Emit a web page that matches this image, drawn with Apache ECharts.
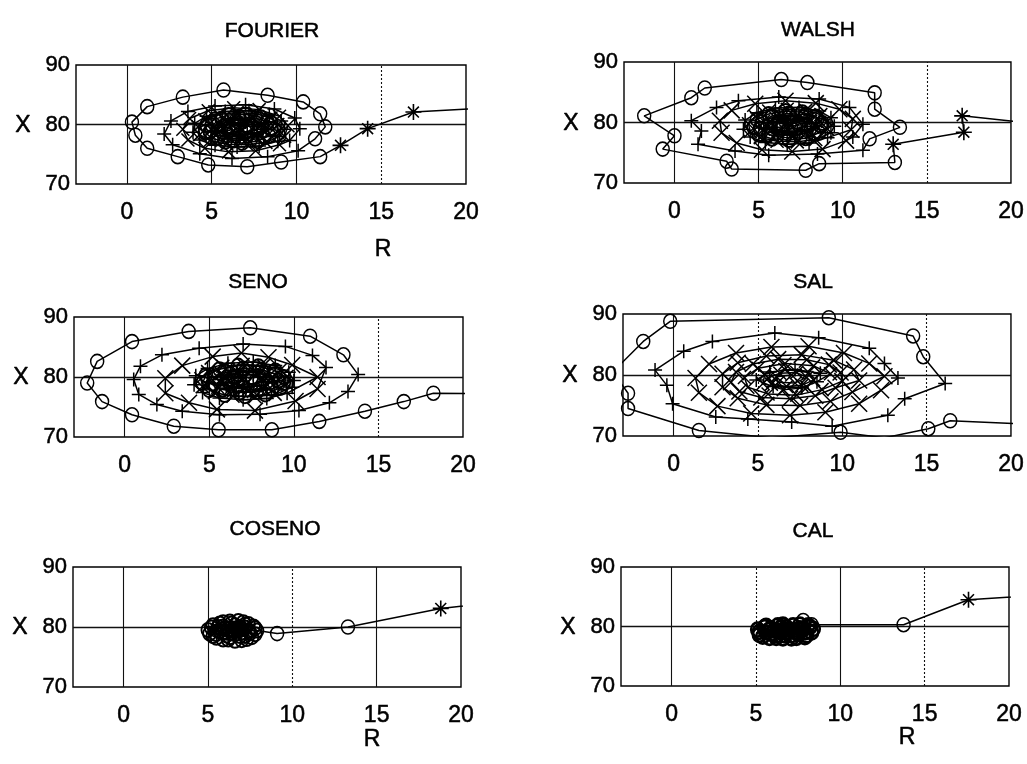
<!DOCTYPE html>
<html>
<head>
<meta charset="utf-8">
<title>Trayectorias R-X</title>
<script src="https://cdn.jsdelivr.net/npm/echarts@6/dist/echarts.min.js"></script>
<style>
  html, body { margin: 0; padding: 0; background: #fff; }
  #chart { width: 1027px; height: 764px; }
</style>
</head>
<body>
<div id="chart"></div>
<script>
// ---- axes ----
const R_TICKS = [0, 5, 10, 15, 20];
const X_TICKS = [70, 80, 90];
const R_GRID = [0, 5, 10, 15];
const X_GRID = [80];
const PANEL_TITLES = ['FOURIER', 'WALSH', 'SENO', 'SAL', 'COSENO', 'CAL'];

// ---- FOURIER: trajectory [R, X], outer stage first ----
const fourierStar = [[22.5, 83.0], [16.9, 82.1], [14.2, 79.3], [12.6, 76.5]];
const fourierCircle = [[11.4, 74.6], [9.1, 73.7], [7.1, 72.9], [4.8, 73.2], [3.0, 74.6], [1.2, 76.0], [0.5, 78.2], [0.3, 80.4], [1.2, 83.0], [3.3, 84.6], [5.7, 85.8], [8.3, 84.9], [10.4, 83.8], [11.4, 81.8], [11.7, 79.6], [11.1, 77.6]];
const fourierPlus = [[10.1, 75.6], [8.3, 74.6], [6.2, 74.3], [4.3, 75.1], [2.7, 76.6], [2.2, 78.4], [2.6, 80.6], [3.6, 82.2], [5.2, 83.1], [7.0, 83.3], [8.7, 82.6], [9.9, 81.1], [10.2, 79.3], [9.6, 77.3]];
const fourierCross = [[9.0, 76.6], [7.6, 75.6], [6.0, 75.4], [4.6, 76.0], [3.6, 77.4], [3.3, 79.2], [3.7, 81.0], [4.8, 82.3], [6.3, 82.8], [7.8, 82.5], [9.0, 81.4], [9.5, 79.8], [9.3, 78.0]];
const fourierCoreP0 = [[8.9, 77.2], [7.8, 76.4], [6.5, 76.2], [5.2, 76.5], [4.3, 77.4], [3.9, 78.7], [4.0, 80.2], [4.7, 81.4], [5.8, 82.2], [7.2, 82.3], [8.4, 81.7], [9.1, 80.6], [9.3, 79.2], [9.0, 78.0]];
const fourierCoreX0 = [[8.2, 77.0], [7.1, 76.6], [5.9, 76.7], [4.9, 77.3], [4.3, 78.3], [4.2, 79.6], [4.6, 80.8], [5.4, 81.7], [6.5, 82.0], [7.6, 81.8], [8.5, 81.1], [8.9, 80.0], [8.9, 78.7]];
const fourierCoreO1 = [[8.4, 78.1], [7.7, 77.2], [6.8, 76.9], [5.8, 77.1], [5.0, 77.7], [4.6, 78.7], [4.7, 79.9], [5.2, 80.9], [6.0, 81.6], [7.0, 81.7], [7.9, 81.2], [8.5, 80.3], [8.7, 79.2]];
const fourierCoreO1b = [[8.1, 77.9], [7.3, 77.4], [6.3, 77.3], [5.4, 77.8], [4.9, 78.8], [5.0, 79.9], [5.6, 80.9], [6.6, 81.3], [7.6, 81.1], [8.3, 80.4], [8.5, 79.3]];
const fourierCoreX1 = [[7.9, 78.2], [7.1, 77.6], [6.1, 77.6], [5.3, 78.3], [5.1, 79.4], [5.5, 80.5], [6.4, 81.0], [7.4, 80.9], [8.0, 80.1], [8.1, 79.0]];
const fourierCoreX1b = [[7.6, 78.0], [6.8, 77.8], [5.9, 78.1], [5.3, 78.9], [5.5, 80.0], [6.2, 80.7], [7.2, 80.7], [7.9, 80.0], [8.0, 79.0]];
const fourierCoreP1 = [[7.4, 78.5], [6.6, 78.1], [5.8, 78.6], [5.6, 79.5], [6.1, 80.3], [7.0, 80.4], [7.5, 79.7]];
const fourierCoreP1b = [[7.1, 78.4], [6.2, 78.3], [5.7, 79.0], [5.9, 79.9], [6.7, 80.3], [7.5, 80.0], [7.7, 79.2]];
const fourierCoreO2 = [[7.0, 78.8], [6.3, 78.8], [6.0, 79.4], [6.5, 79.9], [7.1, 79.6]];
const fourierCoreX2 = [[6.8, 79.1], [6.4, 79.3], [6.7, 79.5]];

// ---- WALSH ----
const walshStar = [[20.8, 80.0], [17.1, 81.1], [17.2, 78.4], [13.0, 76.4]];
const walshCircle = [[13.1, 73.4], [8.6, 73.2], [7.8, 72.1], [3.4, 72.3], [3.1, 73.6], [-0.7, 75.6], [0.0, 77.8], [-1.8, 81.1], [1.0, 84.1], [1.8, 85.7], [6.35, 87.1], [7.9, 86.6], [11.9, 84.9], [11.9, 82.2], [13.4, 79.2], [11.6, 77.3]];
const walshPlus = [[11.2, 75.4], [8.5, 74.8], [5.6, 74.6], [3.6, 75.3], [1.4, 76.4], [1.6, 78.6], [1.0, 80.3], [2.5, 82.5], [3.8, 83.6], [6.2, 84.2], [8.6, 83.9], [10.4, 82.5], [11.2, 79.7], [10.6, 77.6]];
const walshCross = [[10.2, 77.0], [8.8, 75.6], [7.0, 75.2], [5.2, 75.5], [3.7, 76.6], [2.8, 78.3], [2.7, 80.3], [3.4, 82.0], [4.8, 83.1], [6.6, 83.6], [8.4, 83.2], [9.8, 82.2], [10.6, 80.6], [10.5, 78.8]];
const walshCoreP0 = [[9.1, 77.5], [8.0, 76.6], [6.7, 76.4], [5.4, 76.7], [4.5, 77.6], [4.1, 78.9], [4.2, 80.4], [4.9, 81.6], [6.0, 82.4], [7.4, 82.5], [8.6, 81.9], [9.3, 80.8], [9.5, 79.4], [9.3, 78.3]];
const walshCoreX0 = [[8.4, 77.2], [7.3, 76.8], [6.1, 76.9], [5.1, 77.5], [4.5, 78.5], [4.4, 79.8], [4.8, 81.0], [5.6, 81.9], [6.7, 82.2], [7.8, 82.0], [8.7, 81.3], [9.1, 80.2], [9.1, 78.9]];
const walshCoreO1 = [[8.6, 78.3], [7.8, 77.4], [6.8, 77.1], [5.8, 77.3], [5.0, 78.0], [4.7, 79.2], [4.9, 80.5], [5.6, 81.4], [6.6, 81.9], [7.6, 81.7], [8.4, 81.0], [8.8, 79.9]];
const walshCoreO1b = [[8.3, 78.1], [7.5, 77.6], [6.5, 77.5], [5.6, 78.0], [5.1, 79.0], [5.2, 80.1], [5.8, 81.1], [6.8, 81.5], [7.8, 81.3], [8.5, 80.6], [8.7, 79.5]];
const walshCoreX1 = [[8.1, 78.4], [7.1, 77.8], [6.0, 78.0], [5.3, 78.9], [5.3, 80.2], [6.1, 81.1], [7.3, 81.2], [8.1, 80.5], [8.4, 79.4]];
const walshCoreX1b = [[7.8, 78.2], [7.0, 78.0], [6.1, 78.3], [5.5, 79.1], [5.7, 80.2], [6.4, 80.9], [7.4, 80.9], [8.1, 80.2], [8.2, 79.2]];
const walshCoreP1 = [[7.6, 78.7], [6.7, 78.4], [5.9, 78.9], [5.8, 79.9], [6.5, 80.6], [7.4, 80.5], [7.9, 79.8]];
const walshCoreP1b = [[7.3, 78.6], [6.4, 78.5], [5.9, 79.2], [6.1, 80.1], [6.9, 80.5], [7.7, 80.2], [7.9, 79.4]];
const walshCoreO2 = [[7.2, 79.0], [6.4, 79.1], [6.2, 79.8], [6.9, 80.1], [7.4, 79.6]];
const walshCoreX2 = [[6.9, 79.4], [6.5, 79.6], [6.9, 79.8]];

// ---- SENO ----
const senoCircle = [[21.5, 77.2], [18.25, 77.3], [16.5, 75.9], [14.2, 74.3], [11.5, 72.6], [8.7, 71.2], [5.55, 71.2], [2.9, 71.8], [0.43, 73.7], [-1.34, 75.9], [-2.22, 79.0], [-1.63, 82.6], [0.43, 85.9], [3.78, 87.6], [7.42, 88.2], [10.96, 86.8], [12.93, 83.7]];
const senoPlus = [[13.8, 80.4], [13.2, 77.6], [12.1, 75.7], [10.3, 74.4], [8.0, 73.8], [5.6, 73.7], [3.4, 74.3], [1.9, 75.4], [0.83, 77.1], [0.53, 79.6], [0.93, 81.8], [2.2, 83.7], [4.4, 84.8], [7.0, 85.5], [9.5, 85.1], [11.1, 83.6], [11.9, 81.6]];
const senoCross = [[11.4, 78.0], [10.1, 76.0], [7.7, 74.4], [5.45, 74.6], [3.8, 75.7], [2.4, 77.3], [2.4, 79.8], [3.4, 81.9], [5.2, 83.4], [6.9, 84.0], [8.5, 83.3], [9.9, 82.0], [11.4, 80.0]];
const senoCoreP0 = [[9.6, 77.3], [8.4, 76.4], [7.0, 76.2], [5.6, 76.5], [4.6, 77.4], [4.1, 78.7], [4.2, 80.2], [4.9, 81.4], [6.1, 82.3], [7.6, 82.5], [8.9, 81.9], [9.7, 80.8], [10.0, 79.4], [9.9, 78.3]];
const senoCoreX0 = [[8.9, 77.1], [7.7, 76.7], [6.4, 76.8], [5.3, 77.4], [4.6, 78.4], [4.5, 79.7], [4.9, 80.9], [5.8, 81.8], [7.0, 82.1], [8.2, 81.9], [9.2, 81.2], [9.6, 80.1], [9.6, 78.8]];
const senoCoreO1 = [[9.2, 78.2], [8.3, 77.1], [7.1, 76.8], [5.9, 77.0], [5.0, 77.8], [4.6, 79.0], [4.8, 80.3], [5.6, 81.3], [6.7, 81.9], [7.9, 81.8], [8.9, 81.1], [9.4, 80.0], [9.4, 79.0]];
const senoCoreO1b = [[8.7, 78.0], [7.8, 77.5], [6.8, 77.4], [5.8, 77.9], [5.2, 78.9], [5.3, 80.0], [5.9, 81.0], [7.0, 81.4], [8.1, 81.2], [8.9, 80.5], [9.1, 79.4]];
const senoCoreX1 = [[8.6, 78.2], [7.6, 77.6], [6.4, 77.6], [5.5, 78.3], [5.2, 79.5], [5.7, 80.6], [6.8, 81.1], [8.0, 80.9], [8.7, 80.0]];
const senoCoreX1b = [[8.2, 78.1], [7.3, 77.9], [6.3, 78.2], [5.7, 79.0], [5.9, 80.1], [6.7, 80.8], [7.7, 80.8], [8.5, 80.1], [8.6, 79.1]];
const senoCoreP1 = [[8.1, 78.6], [7.0, 78.2], [6.0, 78.6], [5.7, 79.6], [6.4, 80.4], [7.6, 80.4], [8.3, 79.6]];
const senoCoreP1b = [[7.6, 78.5], [6.6, 78.4], [6.1, 79.1], [6.3, 80.0], [7.2, 80.4], [8.0, 80.1], [8.2, 79.3]];
const senoCoreO2 = [[7.7, 78.9], [6.7, 78.7], [6.1, 79.3], [6.5, 80.0], [7.5, 79.9]];
const senoCoreX2 = [[7.3, 79.2], [6.6, 79.3], [7.0, 79.6]];

// ---- SAL ----
const salCircle = [[21.5, 71.9], [16.4, 72.5], [15.1, 71.2], [12.5, 69.7], [9.9, 70.6], [5.8, 69.7], [1.5, 70.9], [-2.7, 74.5], [-2.7, 77.0], [-3.6, 80.5], [-1.8, 85.5], [-0.2, 88.8], [9.2, 89.4], [14.2, 86.4], [14.8, 83.0]];
const salPlus = [[16.1, 78.6], [13.7, 76.1], [12.7, 73.4], [9.4, 71.6], [7.0, 72.3], [4.4, 72.8], [2.5, 73.1], [-0.06, 75.3], [-0.4, 78.3], [-1.1, 80.8], [0.6, 83.9], [2.3, 85.5], [6.0, 86.9], [8.6, 86.1], [11.6, 84.4], [12.5, 81.9], [13.3, 79.5]];
const salCross = [[12.3, 77.5], [11.0, 75.3], [9.0, 73.9], [6.9, 73.4], [4.6, 73.7], [2.6, 74.9], [1.5, 77.1], [1.3, 79.5], [2.1, 81.8], [3.7, 83.6], [5.8, 84.6], [8.0, 84.7], [10.1, 83.6], [11.6, 81.9], [12.5, 79.8]];
const salCross2 = [[10.6, 77.2], [9.3, 75.7], [7.5, 75.0], [5.5, 75.1], [3.8, 76.2], [2.9, 78.0], [2.9, 80.2], [3.8, 82.0], [5.5, 83.1], [7.6, 83.3], [9.5, 82.4], [10.7, 80.9], [11.0, 79.1]];
const salCoreX0 = [[9.6, 77.9], [8.4, 76.6], [6.9, 76.1], [5.2, 76.3], [3.9, 77.3], [3.4, 78.8], [3.7, 80.5], [4.7, 81.8], [6.2, 82.6], [7.9, 82.5], [9.2, 81.7], [9.9, 80.4], [10.0, 79.0]];
const salCoreX1 = [[8.8, 77.6], [7.3, 76.7], [5.6, 76.9], [4.4, 78.0], [4.2, 79.6], [5.0, 81.1], [6.6, 81.9], [8.3, 81.5], [9.3, 80.2]];
const salCoreP1 = [[8.5, 78.9], [7.6, 77.9], [5.9, 78.1], [4.9, 79.2], [5.7, 80.5], [7.2, 80.9], [8.7, 80.3]];
const salCoreX2 = [[7.9, 78.0], [6.5, 77.6], [5.3, 78.6], [5.4, 80.1], [6.6, 80.9], [8.0, 80.4], [8.3, 79.2]];
const salCoreX3 = [[7.6, 78.3], [6.7, 78.1], [5.8, 78.5], [5.6, 79.5], [6.3, 80.3], [7.3, 80.4], [7.9, 79.6]];
const salCoreX4 = [[7.2, 78.7], [6.2, 78.8], [6.1, 79.7], [7.0, 80.0]];

// ---- COSENO ----
const cosenoStar = [[22.0, 84.1], [18.8, 83.1]];
const cosenoCircle = [[13.3, 80.0], [9.1, 78.9]];
const cosenoCore = [[7.9, 79.4], [7.6, 78.3], [7.0, 77.8], [6.2, 77.9], [5.5, 78.2], [5.1, 78.9], [5.2, 79.9], [5.7, 80.6], [6.3, 80.9], [7.1, 80.8], [7.7, 80.1], [7.5, 79.0], [6.9, 78.5], [6.1, 78.6], [5.7, 79.3], [5.9, 80.1], [6.6, 80.3], [7.2, 79.9], [7.0, 79.1], [6.4, 79.0], [6.2, 79.6], [6.7, 79.7], [6.6, 79.3]];
const cosenoCore2 = [[7.4, 80.5], [6.8, 81.0], [5.9, 80.8], [5.3, 80.3], [5.0, 79.5], [5.3, 78.5], [5.9, 77.9], [6.6, 77.7], [7.3, 78.0], [7.8, 78.8], [7.8, 79.8], [7.2, 80.4], [6.4, 80.6], [5.6, 80.0], [5.5, 78.8], [6.3, 78.3], [7.2, 78.5], [7.4, 79.4], [6.9, 80.0], [6.0, 79.8], [5.9, 79.1], [6.6, 78.8], [6.9, 79.5], [6.4, 79.4]];

// ---- CAL ----
const calStar = [[22.0, 85.3], [17.6, 84.5]];
const calCircle = [[13.75, 80.3], [8.3, 80.3], [7.8, 81.0]];
const calCore = [[8.1, 80.2], [8.3, 79.0], [7.9, 78.2], [7.1, 78.0], [6.2, 78.1], [5.4, 78.3], [5.2, 79.1], [5.5, 79.9], [6.3, 80.2], [7.2, 80.2], [7.8, 79.6], [7.5, 78.7], [6.7, 78.5], [5.9, 78.8], [5.8, 79.5], [6.5, 79.8], [7.2, 79.4], [6.9, 79.0], [6.3, 79.2], [6.6, 79.4]];
const calCore2 = [[8.4, 79.6], [8.0, 78.5], [7.4, 78.1], [6.6, 78.0], [5.8, 78.1], [5.2, 78.6], [5.1, 79.5], [5.6, 80.1], [6.6, 80.3], [7.6, 80.3], [8.2, 79.9], [7.9, 79.0], [7.1, 78.5], [6.2, 78.5], [5.6, 79.0], [5.9, 79.7], [6.8, 79.9], [7.6, 79.7], [7.4, 79.0], [6.5, 79.0], [6.1, 79.4], [6.9, 79.5]];

// ---- marker shapes ----
const SYMBOLS = {
  circle: { symbol: 'circle', size: [13, 14], width: 1.5 },
  core: { symbol: 'circle', size: [13, 14], width: 1.9 },
  blob: { symbol: 'circle', size: [13, 14], width: 2.6 },
  plus: { symbol: 'path://M5,0L5,10M0,5L10,5', size: 14, width: 1.5 },
  cross: { symbol: 'path://M0,0L10,10M10,0L0,10', size: 13, width: 1.5 },
  bigcross: { symbol: 'path://M0,0L10,10M10,0L0,10', size: 16, width: 1.5 },
  star: { symbol: 'path://M5,0L5,10M0,5L10,5M1.6,1.6L8.4,8.4M8.4,1.6L1.6,8.4', size: 16, width: 1.6 }
};

// ---- panel layout ----
const FONT = "'Liberation Sans', Arial, Helvetica, sans-serif";
const panels = [
  { box: [76, 65, 390, 119], dotted: [15], rLabel: [383, 250], title: [272, 31],
    segments: [['star', fourierStar], ['circle', fourierCircle], ['plus', fourierPlus], ['cross', fourierCross],
      ['plus', fourierCoreP0], ['cross', fourierCoreX0], ['core', fourierCoreO1], ['core', fourierCoreO1b],
      ['cross', fourierCoreX1], ['cross', fourierCoreX1b], ['plus', fourierCoreP1], ['plus', fourierCoreP1b],
      ['core', fourierCoreO2], ['cross', fourierCoreX2]] },
  { box: [624, 62, 389, 121], dotted: [15], rLabel: null, title: [818, 30],
    segments: [['star', walshStar], ['circle', walshCircle], ['plus', walshPlus], ['bigcross', walshCross],
      ['plus', walshCoreP0], ['cross', walshCoreX0], ['core', walshCoreO1], ['core', walshCoreO1b],
      ['cross', walshCoreX1], ['cross', walshCoreX1b], ['plus', walshCoreP1], ['plus', walshCoreP1b],
      ['core', walshCoreO2], ['cross', walshCoreX2]] },
  { box: [74, 317, 389, 120], dotted: [15], rLabel: null, title: [258, 282],
    segments: [['circle', senoCircle], ['plus', senoPlus], ['bigcross', senoCross],
      ['plus', senoCoreP0], ['cross', senoCoreX0], ['core', senoCoreO1], ['core', senoCoreO1b],
      ['cross', senoCoreX1], ['cross', senoCoreX1b], ['plus', senoCoreP1], ['plus', senoCoreP1b],
      ['core', senoCoreO2], ['cross', senoCoreX2]] },
  { box: [623, 314, 388, 122], dotted: [5, 15], rLabel: null, title: [813, 282],
    segments: [['circle', salCircle], ['plus', salPlus], ['bigcross', salCross], ['bigcross', salCross2],
      ['bigcross', salCoreX0], ['cross', salCoreX1], ['plus', salCoreP1], ['cross', salCoreX2],
      ['cross', salCoreX3], ['cross', salCoreX4]] },
  { box: [73, 567, 388, 120], dotted: [10], rLabel: [372, 740], title: [275, 529],
    segments: [['star', cosenoStar], ['circle', cosenoCircle], ['core', cosenoCore], ['core', cosenoCore2]] },
  { box: [621, 567, 388, 119], dotted: [5, 15], rLabel: [907, 738], title: [813, 531],
    segments: [['star', calStar], ['circle', calCircle], ['blob', calCore], ['blob', calCore2]] }
];

const grids = [], xAxes = [], yAxes = [], series = [], graphics = [];
const INK = { textBorderColor: '#000', textBorderWidth: 0.5 };
const centered = { align: 'center', verticalAlign: 'middle', textAlign: 'center', textVerticalAlign: 'middle', fill: '#000', stroke: '#000', lineWidth: 0.5 };

panels.forEach((p, i) => {
  const [left, top, width, height] = p.box;
  grids.push({ left, top, width, height, show: true, borderColor: '#000', borderWidth: 1.4, backgroundColor: 'transparent' });

  xAxes.push({
    type: 'value', gridIndex: i, min: -3, max: 20,
    axisLine: { show: false }, axisTick: { show: false }, splitLine: { show: false },
    axisLabel: Object.assign({
      customValues: R_TICKS,
      formatter: v => (R_TICKS.includes(v) ? String(v) : ''),
      color: '#000', fontFamily: FONT, fontSize: 23, margin: 17
    }, INK)
  });
  yAxes.push({
    type: 'value', gridIndex: i, min: 70, max: 90, interval: 10,
    axisLine: { show: false }, axisTick: { show: false }, splitLine: { show: false },
    axisLabel: Object.assign({
      formatter: v => (X_TICKS.includes(v) ? String(v) : ''),
      color: '#000', fontFamily: FONT, fontSize: 22, margin: 6
    }, INK)
  });

  // grid lines
  series.push({
    type: 'line', xAxisIndex: i, yAxisIndex: i, data: [], silent: true, z: 1,
    markLine: {
      silent: true, symbol: 'none', label: { show: false }, animation: false,
      data: R_GRID.map(v => ({
        xAxis: v,
        lineStyle: { color: '#111', width: 1.1, type: p.dotted.includes(v) ? [2, 2] : 'solid' }
      })).concat(X_GRID.map(v => ({ yAxis: v, lineStyle: { color: '#111', width: 1.3, type: 'solid' } })))
    }
  });

  // trajectory line through all stages
  series.push({
    type: 'line', xAxisIndex: i, yAxisIndex: i, z: 8, silent: true,
    showSymbol: false, symbol: 'none', smooth: false, clip: true,
    lineStyle: { color: '#000', width: 1.5 },
    data: p.segments.flatMap(s => s[1])
  });

  // markers of each stage
  p.segments.forEach(([kind, pts]) => {
    const s = SYMBOLS[kind];
    series.push({
      type: 'scatter', xAxisIndex: i, yAxisIndex: i, z: 10, silent: true, clip: true,
      symbol: s.symbol, symbolSize: s.size, symbolKeepAspect: false,
      itemStyle: { color: 'rgba(0,0,0,0)', borderColor: '#000', borderWidth: s.width, opacity: 1 },
      data: pts
    });
  });

  // titles and axis names
  graphics.push({
    type: 'text', x: p.title[0], y: p.title[1],
    style: Object.assign({ text: PANEL_TITLES[i], font: '21px ' + FONT }, centered)
  });
  graphics.push({
    type: 'text', x: left - 53, y: top + height / 2 + 1,
    style: Object.assign({ text: 'X', font: '23px ' + FONT }, centered)
  });
  if (p.rLabel) {
    graphics.push({
      type: 'text', x: p.rLabel[0], y: p.rLabel[1],
      style: Object.assign({ text: 'R', font: '23px ' + FONT }, centered)
    });
  }
});

const chart = echarts.init(document.getElementById('chart'), null, { renderer: 'canvas' });
chart.setOption({
  animation: false,
  backgroundColor: '#fff',
  grid: grids,
  xAxis: xAxes,
  yAxis: yAxes,
  series,
  graphic: graphics
});
</script>
</body>
</html>
